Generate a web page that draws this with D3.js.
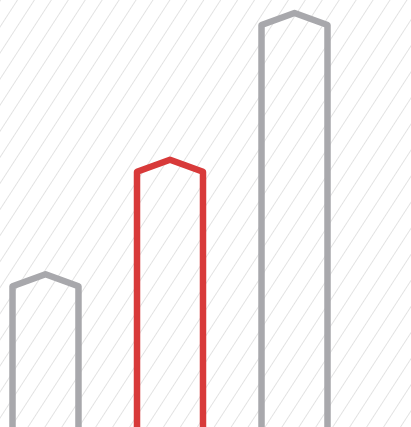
<!DOCTYPE html>
<html>
<head>
<meta charset="utf-8">
<script src="https://cdn.jsdelivr.net/npm/d3@7"></script>
<style>
  html, body { margin: 0; padding: 0; background: #fff; }
  svg { display: block; }
</style>
</head>
<body>
<svg id="chart" width="411" height="427"></svg>
<script>
const categories = ['A', 'B', 'C']
const values = [35, 63.5, 100]
const highlight = ['B']

const width = 411
const height = 427

const svg = d3.select('#chart')

// hatched background
const defs = svg.append('defs')
const pat = defs.append('pattern')
  .attr('id', 'hatch')
  .attr('patternUnits', 'userSpaceOnUse')
  .attr('width', 14.2)
  .attr('height', 20)
  .attr('patternTransform', 'rotate(33)')
pat.append('line')
  .attr('x1', 0).attr('y1', 0)
  .attr('x2', 0).attr('y2', 20)
  .attr('stroke', '#cdcdcd')
  .attr('stroke-width', 1.1)

svg.append('rect')
  .attr('width', width)
  .attr('height', height)
  .attr('fill', 'url(#hatch)')

const x = d3.scaleBand()
  .domain(categories)
  .range([12.5, 327.5])
  .paddingInner(0.47)

const y = d3.scaleLinear()
  .domain([0, 100])
  .range([427, 25])

const roof = 12

const shape = (d, i) => {
  const x0 = x(d)
  const x1 = x0 + x.bandwidth()
  const top = y(values[i])
  const bottom = height + 20
  return d3.line()([
    [x0, bottom],
    [x0, top],
    [(x0 + x1) / 2, top - roof],
    [x1, top],
    [x1, bottom]
  ])
}

svg.append('g')
  .selectAll('path')
  .data(categories)
  .enter()
  .append('path')
  .attr('d', shape)
  .attr('fill', 'none')
  .attr('stroke', d => highlight.includes(d) ? '#d83a3a' : '#a8a8ac')
  .attr('stroke-width', 6.5)
  .attr('stroke-linejoin', 'round')
</script>
</body>
</html>
